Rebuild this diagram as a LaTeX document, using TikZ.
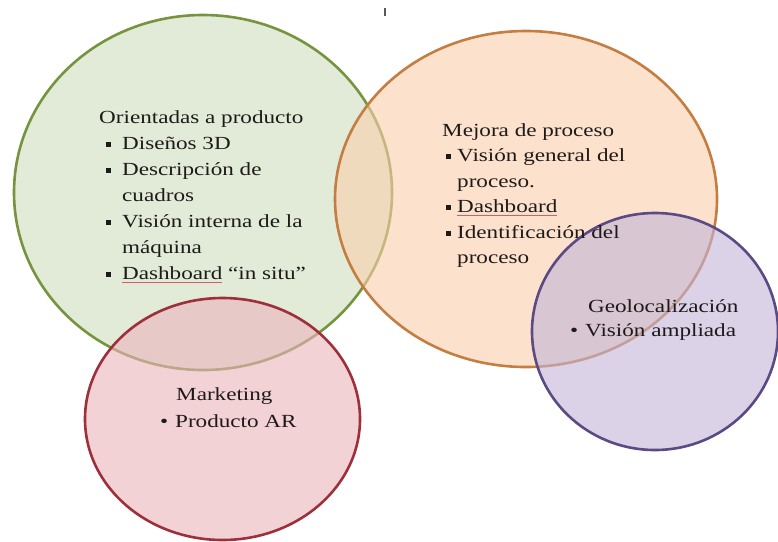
\documentclass[tikz,border=0pt]{standalone}
\usepackage{fontspec}
\setmainfont[FakeStretch=1.25]{Liberation Serif}
\definecolor{gfill}{RGB}{207,223,190}
\definecolor{gline}{RGB}{118,148,62}
\definecolor{ofill}{RGB}{250,207,173}
\definecolor{oline}{RGB}{196,126,66}
\definecolor{pfill}{RGB}{195,180,215}
\definecolor{pline}{RGB}{92,74,132}
\definecolor{rfill}{RGB}{235,180,188}
\definecolor{rline}{RGB}{158,48,60}
\definecolor{txt}{RGB}{30,26,26}
\definecolor{ulred}{RGB}{220,90,100}
\newlength\myulw
\newcommand\mysq[1]{\llap{\rule[2.5pt]{5pt}{5pt}\hspace{#1}}}
\newcommand\myrd[1]{\llap{\textbullet\hspace{#1}}}
\newcommand\myredul[1]{\settowidth\myulw{#1}\rlap{\textcolor{ulred}{\rule[-3.5pt]{\myulw}{0.7pt}}}#1}
\begin{document}
\begin{tikzpicture}[x=1pt,y=-1pt,
  blob/.style={line width=2.6pt, fill opacity=0.6},
  lbl/.style={anchor=base west, inner sep=0pt, text=txt, font=\fontsize{18.5}{22}\selectfont}]
\useasboundingbox (0,0) rectangle (778,541);
\fill[white] (0,0) rectangle (778,541);
% circles
\draw[blob, draw=gline, fill=gfill] (203,192.5) ellipse [x radius=189pt, y radius=177.5pt];
\draw[blob, draw=oline, fill=ofill] (526,199) ellipse [x radius=191pt, y radius=168pt];
\draw[blob, draw=rline, fill=rfill] (222.5,419) ellipse [x radius=137.5pt, y radius=121pt];
\draw[blob, draw=pline, fill=pfill] (655,331.5) ellipse [x radius=123pt, y radius=118.5pt];
% tick mark
\draw[line width=1.6pt, gray!70!black] (385,8) -- (385,16);
% green text
\node[lbl] (g1) at (99,123) {Orientadas a producto};
\node[lbl] (g2) at (122,149) {\mysq{11pt}Diseños 3D};
\node[lbl] (g3) at (122,175) {\mysq{11pt}Descripción de};
\node[lbl] (g4) at (122,201) {cuadros};
\node[lbl] (g5) at (122,227) {\mysq{11pt}Visión interna de la};
\node[lbl] (g6) at (122,253) {máquina};
\node[lbl] (g7) at (122,279) {\mysq{11pt}\myredul{Dashboard} “in situ”};
% orange text
\node[lbl] (o1) at (442,136) {Mejora de proceso};
\node[lbl] (o2) at (457,161.5) {\mysq{6pt}Visión general del};
\node[lbl] (o3) at (457,187) {proceso.};
\node[lbl] (o4) at (457,212.5) {\mysq{6pt}\myredul{Dashboard}};
\node[lbl] (o5) at (457,238) {\mysq{6pt}Identificación del};
\node[lbl] (o6) at (457,263.5) {proceso};
% purple text
\node[lbl] (p1) at (588,312) {Geolocalización};
\node[lbl] (p2) at (585,336) {\myrd{7pt}Visión ampliada};
% red text
\node[lbl] (r1) at (176,400) {Marketing};
\node[lbl] (r2) at (175,427) {\myrd{7pt}Producto AR};
\end{tikzpicture}
\end{document}
